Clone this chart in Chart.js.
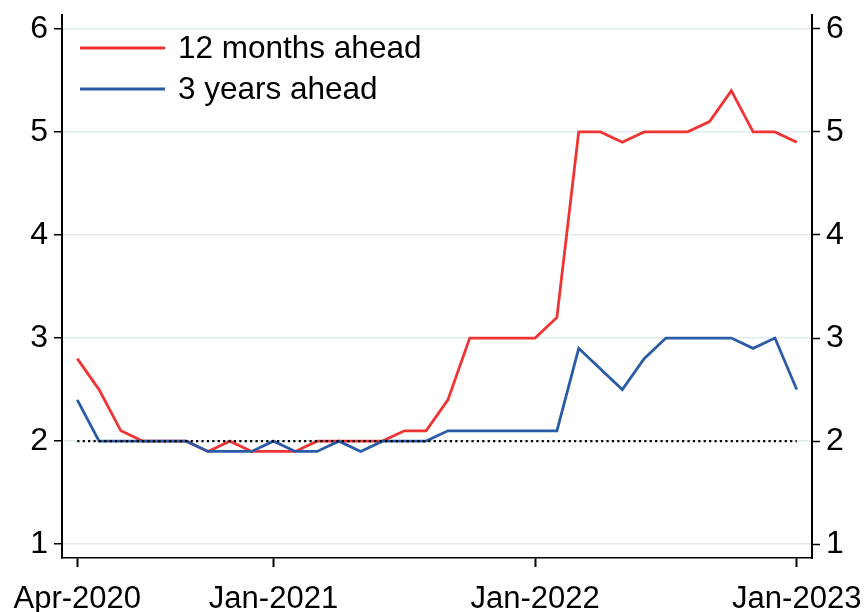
<!DOCTYPE html>
<html>
<head>
<meta charset="utf-8">
<script src="https://cdn.jsdelivr.net/npm/chart.js@4.4.1/dist/chart.umd.min.js"></script>
<style>
  html,body{margin:0;padding:0;background:#fff}
  #wrap{width:864px;height:612px}
</style>
</head>
<body>
<div id="wrap"><canvas id="chart" width="864" height="612"></canvas></div>
<script>
// monthly observations, Apr-2020 .. Jan-2023
const months=['Apr-2020','May-2020','Jun-2020','Jul-2020','Aug-2020','Sep-2020','Oct-2020','Nov-2020','Dec-2020',
  'Jan-2021','Feb-2021','Mar-2021','Apr-2021','May-2021','Jun-2021','Jul-2021','Aug-2021','Sep-2021','Oct-2021','Nov-2021','Dec-2021',
  'Jan-2022','Feb-2022','Mar-2022','Apr-2022','May-2022','Jun-2022','Jul-2022','Aug-2022','Sep-2022','Oct-2022','Nov-2022','Dec-2022',
  'Jan-2023']
const ahead12m=[2.8,2.5,2.1,2.0,2.0,2.0,1.9,2.0,1.9,
  1.9,1.9,2.0,2.0,2.0,2.0,2.1,2.1,2.4,3.0,3.0,3.0,
  3.0,3.2,5.0,5.0,4.9,5.0,5.0,5.0,5.1,5.4,5.0,5.0,
  4.9]
const ahead3y=[2.4,2.0,2.0,2.0,2.0,2.0,1.9,1.9,1.9,
  2.0,1.9,1.9,2.0,1.9,2.0,2.0,2.0,2.1,2.1,2.1,2.1,
  2.1,2.1,2.9,2.7,2.5,2.8,3.0,3.0,3.0,3.0,2.9,3.0,
  2.5]
const targetLevel=2
const xTickLabels=['Apr-2020','Jan-2021','Jan-2022','Jan-2023']
const yTicks=[1,2,3,4,5,6]

const RED='#ee3434'
const BLUE='#2a5ba6'
const FONT="'Liberation Sans', Arial, sans-serif"

function toPoints(arr){
  return arr.map((v,i)=>({x:i,y:v}))
}

// legend drawn inside plot, top-left
const insideLegend={
  id:'insideLegend',
  afterDatasetsDraw(chart){
    const ctx=chart.ctx
    const a=chart.chartArea
    const items=chart.data.datasets.filter(d=>d.showInLegend)
    ctx.save()
    ctx.font='31.5px '+FONT
    ctx.textBaseline='middle'
    items.forEach((d,k)=>{
      const y=a.top+33+k*41
      ctx.strokeStyle=d.borderColor
      ctx.lineWidth=2.8
      ctx.beginPath()
      ctx.moveTo(a.left+18,y)
      ctx.lineTo(a.left+103,y)
      ctx.stroke()
      ctx.fillStyle='#000'
      ctx.fillText(d.label,a.left+116,y+1)
    })
    ctx.restore()
  }
}

function noOverflow(scale){
  scale.paddingTop=0
  scale.paddingBottom=0
  scale.paddingLeft=0
  scale.paddingRight=0
}

const yScaleBase={
  type:'linear',
  min:0.866,
  max:6.134,
  afterBuildTicks(scale){ scale.ticks=yTicks.map(v=>({value:v})) },
  ticks:{color:'#000',font:{family:FONT,size:32,lineHeight:1},padding:6},
  border:{display:true,color:'#000',width:2}
}

new Chart('chart',{
  type:'line',
  data:{
    datasets:[
      {label:'12 months ahead',data:toPoints(ahead12m),borderColor:RED,borderWidth:2.8,pointRadius:0,tension:0,order:3,showInLegend:true},
      {label:'3 years ahead',data:toPoints(ahead3y),borderColor:BLUE,borderWidth:2.8,pointRadius:0,tension:0,order:2,showInLegend:true},
      {label:'target',data:[{x:0,y:targetLevel},{x:months.length-1,y:targetLevel}],borderColor:'#000',borderWidth:2.4,borderDash:[2.2,3.2],pointRadius:0,order:1}
    ]
  },
  options:{
    responsive:false,
    animation:false,
    layout:{padding:{top:15,left:0,right:0,bottom:0}},
    plugins:{legend:{display:false},tooltip:{enabled:false}},
    scales:{
      x:{
        type:'linear',
        min:-0.7,
        max:months.length-1+0.7,
        afterBuildTicks(scale){ scale.ticks=xTickLabels.map(l=>({value:months.indexOf(l)})) },
        afterFit(scale){ scale.height=54; noOverflow(scale) },
        ticks:{color:'#000',font:{family:FONT,size:31},padding:14,maxRotation:0,autoSkip:false,
          callback:v=>months[v]},
        grid:{drawOnChartArea:false,drawTicks:true,tickLength:9,tickColor:'#000',tickWidth:2},
        border:{display:true,color:'#000',width:1.5}
      },
      y:Object.assign({},yScaleBase,{
        position:'left',
        afterFit(scale){ scale.width=62; noOverflow(scale) },
        grid:{color:'#e2ecee',lineWidth:1.5,tickColor:'#000',tickWidth:1.5,tickLength:8}
      }),
      y2:Object.assign({},yScaleBase,{
        position:'right',
        afterFit(scale){ scale.width=52; noOverflow(scale) },
        grid:{drawOnChartArea:false,tickColor:'#000',tickWidth:1.5,tickLength:8}
      })
    }
  },
  plugins:[insideLegend]
})
</script>
</body>
</html>
